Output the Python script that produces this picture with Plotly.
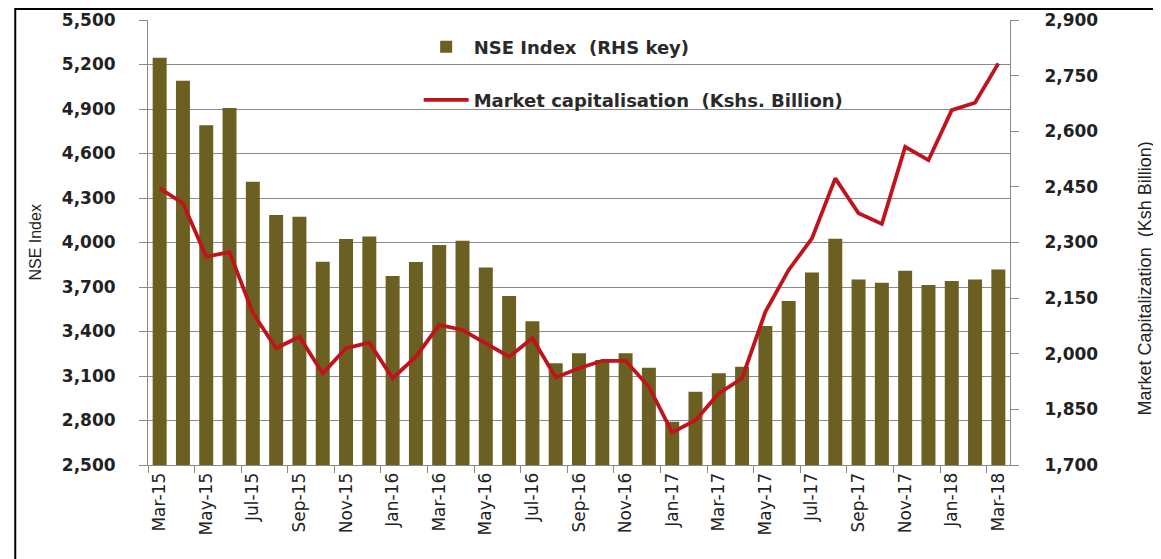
import plotly.graph_objects as go

months = ["Mar-15","Apr-15","May-15","Jun-15","Jul-15","Aug-15","Sep-15","Oct-15","Nov-15","Dec-15",
          "Jan-16","Feb-16","Mar-16","Apr-16","May-16","Jun-16","Jul-16","Aug-16","Sep-16","Oct-16",
          "Nov-16","Dec-16","Jan-17","Feb-17","Mar-17","Apr-17","May-17","Jun-17","Jul-17","Aug-17",
          "Sep-17","Oct-17","Nov-17","Dec-17","Jan-18","Feb-18","Mar-18"]

nse_index = [5245, 5090, 4790, 4907, 4410, 4185, 4174, 3871, 4023, 4040,
             3774, 3869, 3983, 4012, 3832, 3639, 3469, 3186, 3253, 3208,
             3253, 3156, 2792, 2994, 3118, 3163, 3437, 3605, 3798, 4026,
             3751, 3729, 3810, 3713, 3740, 3751, 3818]

market_cap = [2446, 2406, 2262, 2274, 2110, 2015, 2046, 1947, 2015, 2030,
              1934, 1992, 2078, 2064, 2028, 1992, 2042, 1936, 1961, 1981,
              1981, 1911, 1788, 1821, 1893, 1934, 2113, 2226, 2311, 2473,
              2379, 2350, 2558, 2522, 2657, 2677, 2783]

left_ticks = list(range(2500, 5501, 300))
right_ticks = list(range(1700, 2901, 150))

FONT = "DejaVu Sans"
NARROW = "Liberation Sans Narrow, Liberation Sans"
BAR_COLOR = "#6B5F22"
LINE_COLOR = "#C0141C"
TXT = "#222222"

fig = go.Figure()
fig.add_trace(go.Bar(
    x=months, y=nse_index, name="NSE Index  (RHS key)",
    marker=dict(color=BAR_COLOR, line=dict(width=0)),
    yaxis="y", legend="legend",
))
fig.add_trace(go.Scatter(
    x=months, y=market_cap, name="Market capitalisation  (Kshs. Billion)",
    mode="lines", line=dict(color=LINE_COLOR, width=3.8),
    yaxis="y2", legend="legend2",
))

tickfont = dict(family=FONT, size=17, color=TXT, weight="bold")
legfont = dict(family=FONT, size=18, color="#2a2a2a", weight="bold")

fig.update_layout(
    width=1153, height=551,
    margin=dict(l=140, r=151, t=12, b=94, autoexpand=False),
    paper_bgcolor="white", plot_bgcolor="white",
    bargap=0.4,
    showlegend=True,
    xaxis=dict(
        type="category", tickson="boundaries", dtick=2, automargin=False,
        tickangle=-90, tickfont=dict(family=FONT, size=17, color=TXT),
        showgrid=False, showline=True, linecolor="#888888", linewidth=1,
        ticks="outside", ticklen=7, tickcolor="#888888",
    ),
    yaxis=dict(
        range=[2500, 5500], tickvals=left_ticks, automargin=False,
        ticktext=[f"{v:,}" for v in left_ticks],
        tickfont=tickfont, ticklabelstandoff=20,
        showgrid=True, gridcolor="#8a8a8a", gridwidth=1,
        showline=True, linecolor="#888888", linewidth=1,
        ticks="outside", ticklen=8, tickcolor="#888888", zeroline=False,
    ),
    yaxis2=dict(
        range=[1700, 2900], tickvals=right_ticks, automargin=False,
        ticktext=[f"{v:,}" for v in right_ticks],
        tickfont=tickfont, ticklabelstandoff=22, overlaying="y", side="right",
        showgrid=False, showline=True, linecolor="#888888", linewidth=1,
        ticks="outside", ticklen=8, tickcolor="#888888", zeroline=False,
    ),
    legend=dict(x=0.314, y=0.939, xanchor="left", yanchor="middle", itemwidth=45,
                bgcolor="rgba(0,0,0,0)", font=legfont),
    legend2=dict(x=0.314, y=0.820, xanchor="left", yanchor="middle", itemwidth=45,
                 bgcolor="rgba(0,0,0,0)", font=legfont),
    annotations=[
        dict(text="NSE Index", xref="paper", yref="paper", x=-0.131, y=0.5,
             textangle=-90, showarrow=False, xanchor="center", yanchor="middle",
             font=dict(family=NARROW, size=16, color=TXT)),
        dict(text="Market Capitalization  (Ksh Billion)", xref="paper", yref="paper",
             x=1.157, y=0.42, textangle=-90, showarrow=False,
             xanchor="center", yanchor="middle",
             font=dict(family=NARROW, size=18, color=TXT)),
    ],
    shapes=[dict(type="rect", xref="paper", yref="paper", x0=-0.154, x1=1.25, y0=-0.4, y1=1.0247,
                 line=dict(color="black", width=2))],
)

fig.write_html("out.html")
